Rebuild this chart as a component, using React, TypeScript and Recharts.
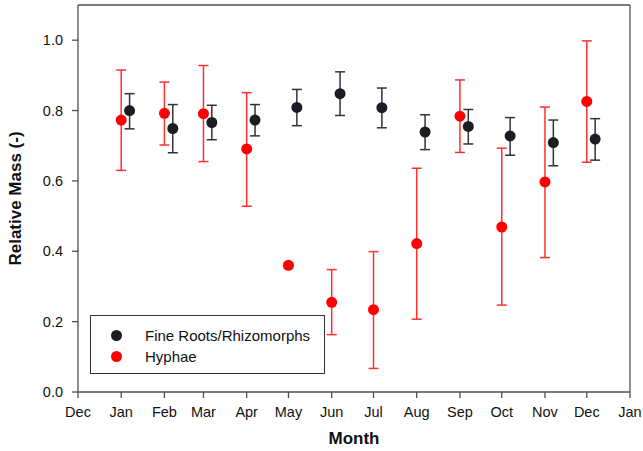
import React from 'react';
import { ScatterChart, Scatter, XAxis, YAxis, ErrorBar, Legend, ReferenceLine, Label } from 'recharts';

// sampling months (first of each month, days counted from 1 Dec)
const months = ['Jan', 'Feb', 'Mar', 'Apr', 'May', 'Jun', 'Jul', 'Aug', 'Sep', 'Oct', 'Nov', 'Dec'];
const sampleDays = [31, 62, 90, 121, 151, 182, 212, 243, 274, 304, 335, 365];
const ROOT_SHIFT_DAYS = 6; // roots plotted slightly right of hyphae

const rootMean = [0.8, 0.749, 0.766, 0.773, 0.809, 0.848, 0.808, 0.739, 0.755, 0.728, 0.709, 0.719];
const rootLow = [0.748, 0.68, 0.717, 0.728, 0.757, 0.786, 0.751, 0.689, 0.705, 0.673, 0.643, 0.659];
const rootHigh = [0.848, 0.817, 0.815, 0.817, 0.86, 0.91, 0.864, 0.788, 0.803, 0.78, 0.773, 0.777];

const hyphaeMean = [0.773, 0.792, 0.791, 0.691, 0.36, 0.255, 0.234, 0.422, 0.784, 0.469, 0.597, 0.826];
const hyphaeLow = [0.63, 0.702, 0.655, 0.528, 0.353, 0.163, 0.067, 0.207, 0.681, 0.247, 0.382, 0.653];
const hyphaeHigh = [0.915, 0.881, 0.928, 0.851, 0.367, 0.348, 0.399, 0.636, 0.887, 0.693, 0.81, 0.998];

const tickDays = [0, 31, 62, 90, 121, 151, 182, 212, 243, 274, 304, 335, 365, 396];
const tickLabels = ['Dec', 'Jan', 'Feb', 'Mar', 'Apr', 'May', 'Jun', 'Jul', 'Aug', 'Sep', 'Oct', 'Nov', 'Dec', 'Jan'];
const yTicks = [0, 0.2, 0.4, 0.6, 0.8, 1.0];

const ROOT_COLOR = '#1c1c24';
const HYPHAE_COLOR = '#ff0000';
const AXIS_COLOR = '#505050';
const FONT = '"Liberation Sans", Arial, sans-serif';

const rootData = months.map((m, i) => ({
  month: m,
  day: sampleDays[i] + ROOT_SHIFT_DAYS,
  value: rootMean[i],
  err: [rootMean[i] - rootLow[i], rootHigh[i] - rootMean[i]],
}));

const hyphaeData = months.map((m, i) => ({
  month: m,
  day: sampleDays[i],
  value: hyphaeMean[i],
  err: [hyphaeMean[i] - hyphaeLow[i], hyphaeHigh[i] - hyphaeMean[i]],
}));

const dot = (color: string) => (p: any) => <circle cx={p.cx} cy={p.cy} r={5.5} fill={color} />;

const LegendBox = () => (
  <div
    style={{
      width: 235,
      height: 59,
      boxSizing: 'border-box',
      border: '1.3px solid #333',
      background: '#fff',
      fontFamily: FONT,
      fontSize: 15,
      color: '#111',
      position: 'relative',
    }}
  >
    {[
      { name: 'Fine Roots/Rhizomorphs', color: ROOT_COLOR },
      { name: 'Hyphae', color: HYPHAE_COLOR },
    ].map((item, i) => (
      <div key={item.name} style={{ position: 'absolute', left: 20, top: 9 + i * 21, height: 20, display: 'flex', alignItems: 'center' }}>
        <span style={{ width: 11, height: 11, borderRadius: '50%', background: item.color, display: 'inline-block' }} />
        <span style={{ marginLeft: 23 }}>{item.name}</span>
      </div>
    ))}
  </div>
);

const XTitle = (props: any) => {
  const { viewBox } = props;
  return (
    <text x={viewBox.x + viewBox.width / 2} y={viewBox.y + 52} textAnchor="middle" fontFamily={FONT} fontWeight="bold" fontSize={17} fill="#111">
      Month
    </text>
  );
};

const YTitle = (props: any) => {
  const { viewBox } = props;
  const x = viewBox.x + 3;
  const y = viewBox.y + viewBox.height / 2;
  return (
    <text x={x} y={y} transform={`rotate(-90, ${x}, ${y})`} textAnchor="middle" fontFamily={FONT} fontWeight="bold" fontSize={17} fill="#111">
      Relative Mass (-)
    </text>
  );
};

export default function App() {
  const tickStyle = { fontFamily: FONT, fontSize: 14.5, fill: '#111' };
  return (
    <div style={{ width: 643, height: 451, background: '#fff' }}>
      <style>{`body{margin:0}`}</style>
      <ScatterChart width={643} height={451} margin={{ top: 5, right: 13, left: 18, bottom: 29 }}>
        <XAxis
          type="number"
          dataKey="day"
          domain={[0, 396]}
          ticks={tickDays}
          interval={0}
          tickFormatter={(v: number) => tickLabels[tickDays.indexOf(v)]}
          tick={tickStyle}
          tickSize={6}
          tickMargin={9}
          height={30}
          stroke={AXIS_COLOR}
          strokeWidth={1.3}
        >
          <Label content={<XTitle />} />
        </XAxis>
        <YAxis
          type="number"
          dataKey="value"
          domain={[0, 1.1]}
          ticks={yTicks}
          interval={0}
          tickFormatter={(v: number) => v.toFixed(1)}
          tick={tickStyle}
          tickSize={6}
          tickMargin={9}
          width={60}
          stroke={AXIS_COLOR}
          strokeWidth={1.3}
        >
          <Label content={<YTitle />} />
        </YAxis>
        <ReferenceLine y={1.1} stroke={AXIS_COLOR} strokeWidth={1.3} />
        <ReferenceLine x={396} stroke={AXIS_COLOR} strokeWidth={1.3} />
        <Legend
          layout="horizontal"
          verticalAlign="middle"
          align="center"
          content={<LegendBox />}
          wrapperStyle={{ left: 90, top: 315, width: 235, height: 59 }}
        />
        <Scatter name="Fine Roots/Rhizomorphs" data={rootData} fill={ROOT_COLOR} shape={dot(ROOT_COLOR)} isAnimationActive={false}>
          <ErrorBar dataKey="err" direction="y" width={5} stroke="#333" strokeWidth={1.5} isAnimationActive={false} />
        </Scatter>
        <Scatter name="Hyphae" data={hyphaeData} fill={HYPHAE_COLOR} shape={dot(HYPHAE_COLOR)} isAnimationActive={false} />
        {/* hyphae error bars drawn over the dots, as in the original */}
        <Scatter name="Hyphae error" data={hyphaeData} legendType="none" shape={() => <g />} isAnimationActive={false}>
          <ErrorBar dataKey="err" direction="y" width={5} stroke="#ff3030" strokeWidth={1.5} isAnimationActive={false} />
        </Scatter>
      </ScatterChart>
    </div>
  );
}
